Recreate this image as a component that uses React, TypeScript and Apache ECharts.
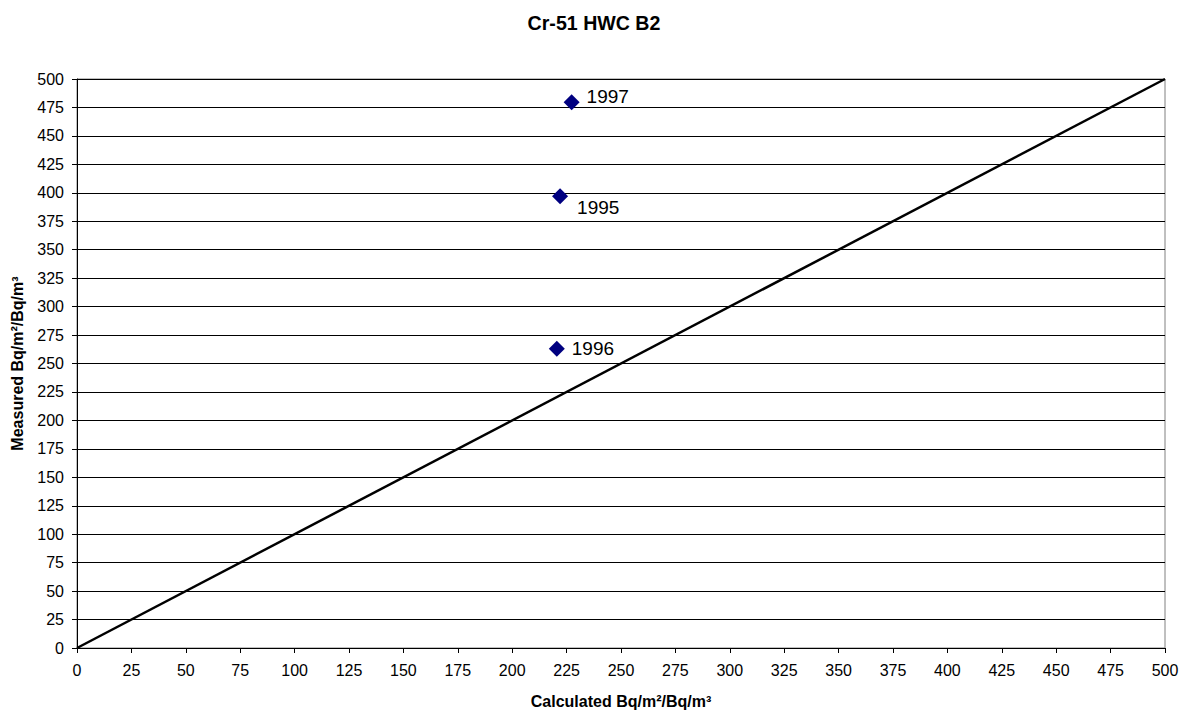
import React, { useEffect, useRef } from "react";
import * as echarts from "echarts";

// Measured vs calculated deposition for Cr-51
const years = ["1995", "1996", "1997"];
const calculated = [222, 220.5, 227.3];
const measured = [397, 263, 479.5];
// label offsets (x, y) relative to the default right-hand position
const labelOffsets = [
  [4, 11],
  [2, 0],
  [2, -6],
];

// 1:1 reference line
const refLine = [
  [0, 0],
  [500, 500],
];

const axisMax = 500;
const axisStep = 25;

export default function App() {
  const ref = useRef<HTMLDivElement>(null);

  useEffect(() => {
    document.body.style.margin = "0";
    if (!ref.current) return;
    const chart = echarts.init(ref.current, null, { renderer: "svg" });
    const font = "Arial, 'Liberation Sans', Helvetica, sans-serif";

    const points = years.map((y, i) => ({
      value: [calculated[i], measured[i]],
      name: y,
      label: { position: "right", offset: labelOffsets[i] },
    }));

    chart.setOption({
      animation: false,
      backgroundColor: "#ffffff",
      textStyle: { fontFamily: font },
      title: {
        text: "Cr-51 HWC B2",
        left: "center",
        top: 8,
        textStyle: { fontSize: 19.6, fontWeight: "bold", color: "#000", fontFamily: font },
      },
      grid: {
        left: 77,
        right: 23,
        top: 79,
        bottom: 66,
        show: true,
        borderColor: "#808080",
        borderWidth: 1,
        backgroundColor: "transparent",
      },
      xAxis: {
        type: "value",
        min: 0,
        max: axisMax,
        interval: axisStep,
        name: "Calculated Bq/m²/Bq/m³",
        nameLocation: "middle",
        nameGap: 45,
        nameTextStyle: { fontSize: 16, fontWeight: "bold", color: "#000", fontFamily: font },
        axisLine: { show: true, lineStyle: { color: "#000", width: 1 } },
        axisTick: { show: true, inside: false, length: 5, lineStyle: { color: "#000" } },
        axisLabel: { fontSize: 16, color: "#000", margin: 14, fontFamily: font },
        splitLine: { show: false },
      },
      yAxis: {
        type: "value",
        min: 0,
        max: axisMax,
        interval: axisStep,
        name: "Measured Bq/m²/Bq/m³",
        nameLocation: "middle",
        nameGap: 52,
        nameRotate: 90,
        nameTextStyle: { fontSize: 16, fontWeight: "bold", color: "#000", fontFamily: font },
        axisLine: { show: true, lineStyle: { color: "#000", width: 1 } },
        axisTick: { show: true, inside: false, length: 5, lineStyle: { color: "#000" } },
        axisLabel: { fontSize: 16, color: "#000", margin: 13, fontFamily: font },
        splitLine: { show: true, lineStyle: { color: "#000", width: 1 } },
      },
      series: [
        {
          type: "line",
          data: refLine,
          symbol: "none",
          lineStyle: { color: "#000", width: 2.5 },
          silent: true,
          z: 3,
        },
        {
          type: "scatter",
          data: points,
          symbol: "diamond",
          symbolSize: 16,
          itemStyle: { color: "#000080", opacity: 1 },
          label: {
            show: true,
            formatter: "{b}",
            fontSize: 19,
            color: "#000",
            fontFamily: font,
          },
          z: 4,
        },
      ],
    });

    return () => chart.dispose();
  }, []);

  return <div ref={ref} style={{ width: 1188, height: 714 }} />;
}
